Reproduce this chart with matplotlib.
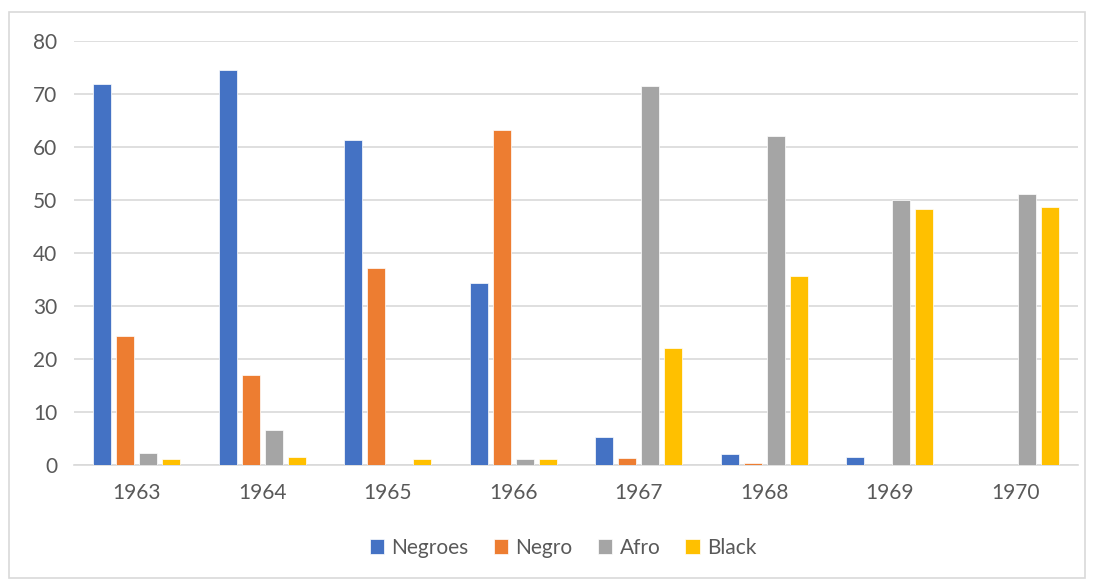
import matplotlib
matplotlib.use("Agg")
import matplotlib.pyplot as plt
import numpy as np
from matplotlib.patches import Rectangle

years = ["1963", "1964", "1965", "1966", "1967", "1968", "1969", "1970"]
series_names = ["Negroes", "Negro", "Afro", "Black"]
negroes = [72.0, 74.6, 61.4, 34.4, 5.2, 2.0, 1.6, 0.0]
negro = [24.3, 16.9, 37.2, 63.2, 1.3, 0.3, 0.0, 0.0]
afro = [2.3, 6.7, 0.0, 1.1, 71.5, 62.1, 50.0, 51.1]
black = [1.1, 1.6, 1.1, 1.1, 22.1, 35.6, 48.4, 48.7]
colors = ["#4472C4", "#ED7D31", "#A5A5A5", "#FFC000"]

plt.rcParams['font.family'] = ['Lato', 'DejaVu Sans']
txt = "#595959"

fig = plt.figure(figsize=(10.95, 5.82), dpi=100)
# outer chart border
fig.patches.append(Rectangle((9/1095, 1 - 578/582), (1085-9)/1095, (578-12)/582,
                             transform=fig.transFigure, fill=False,
                             edgecolor="#D9D9D9", linewidth=1.2))
ax = fig.add_axes([74/1095, 1 - 465/582, (1078-74)/1095, (465-41.3)/582])

x = np.arange(len(years))
slot = 0.183
bw = 0.143
data = [negroes, negro, afro, black]
for i, (name, vals, c) in enumerate(zip(series_names, data, colors)):
    ax.bar(x + (i - 1.5) * slot, vals, width=bw, color=c, label=name,
           edgecolor="white", linewidth=0.5, zorder=3)

ax.set_xlim(-0.5, len(years) - 0.5)
ax.set_ylim(0, 80)
ax.set_yticks(range(0, 81, 10))
ax.set_xticks(x)
ax.set_xticklabels(years)
ax.grid(axis="y", color="#D9D9D9", linewidth=1.2, zorder=0)
ax.set_axisbelow(True)
for s in ["top", "right", "left"]:
    ax.spines[s].set_visible(False)
ax.spines["bottom"].set_color("#D9D9D9")
ax.spines["bottom"].set_linewidth(1.2)
ax.tick_params(axis="both", length=0, labelsize=15, colors=txt)
ax.tick_params(axis="y", pad=12)
ax.tick_params(axis="x", pad=13)

leg = ax.legend(loc="center", bbox_to_anchor=(563/1095, 1 - 548/582),
                bbox_transform=fig.transFigure, ncol=4, frameon=False,
                fontsize=15, handlelength=0.7, handleheight=0.7,
                handletextpad=0.35, columnspacing=1.2)
for t in leg.get_texts():
    t.set_color(txt)

fig.savefig("out.png", dpi=100)
